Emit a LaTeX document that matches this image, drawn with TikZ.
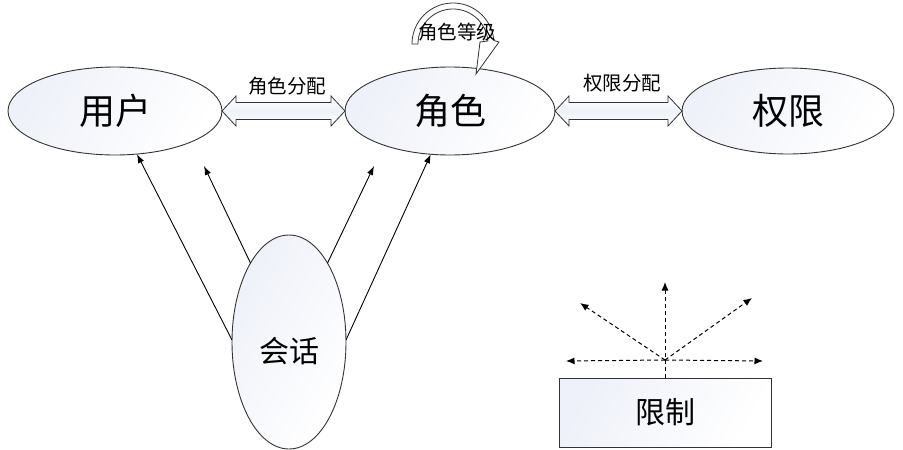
\documentclass[tikz,border=0pt]{standalone}
\usepackage{fontspec}
\setmainfont{Noto Sans CJK SC}
\usetikzlibrary{shapes.geometric,arrows.meta,calc}
\definecolor{shd}{HTML}{EEF1F9}
\definecolor{edge}{HTML}{333333}
\begin{document}
\begin{tikzpicture}[x=1pt,y=-1pt,
  ell/.style={ellipse, draw=edge, line width=0.9pt, inner sep=0pt, outer sep=0pt,
    left color=shd, right color=white, shading angle=60},
  bigtxt/.style={font=\fontsize{36}{38}\selectfont},
  midtxt/.style={font=\fontsize{30}{32}\selectfont},
  smalltxt/.style={font=\fontsize{19.5}{21}\selectfont},
  darrow/.style={draw=edge, line width=0.8pt, top color=white, bottom color=white, middle color=shd, line join=miter},
  sarrow/.style={draw=black, line width=0.9pt, -{Latex[length=9pt,width=6.5pt]}},
  dasharr/.style={draw=black, line width=1pt, dash pattern=on 4pt off 3pt, -{Latex[length=8.5pt,width=7pt]}},
]
\useasboundingbox (0,0) rectangle (903,450);

% ellipses
\node[ell, bigtxt, minimum width=214pt, minimum height=88pt] (yh) at (115,111) {用户};
\node[ell, bigtxt, minimum width=210pt, minimum height=88pt] (js) at (450,111) {角色};
\node[ell, bigtxt, minimum width=212pt, minimum height=86pt] (qx) at (788,111) {权限};
\node[ell, midtxt, minimum width=114pt, minimum height=214pt] (hs) at (289,342) {\raisebox{-9pt}[\height][\depth]{会话}};

% double hollow arrows
\draw[darrow] (yh.east) -- ++(14,-15) -- ++(0,6.5) -- ($(js.west)+(-14,-8.5)$) -- ++(0,-6.5) -- (js.west)
  -- ++(-14,15) -- ++(0,-6.5) -- ($(yh.east)+(14,8.5)$) -- ++(0,6.5) -- cycle;
\draw[darrow] (js.east) -- ++(14,-15) -- ++(0,6.5) -- ($(qx.west)+(-14,-8.5)$) -- ++(0,-6.5) -- (qx.west)
  -- ++(-14,15) -- ++(0,-6.5) -- ($(js.east)+(14,8.5)$) -- ++(0,6.5) -- cycle;
\node[smalltxt] (l1) at (287,86) {角色分配};
\node[smalltxt] (l2) at (622,83) {权限分配};

% curved arrow (role hierarchy)
\draw[draw=edge, line width=0.8pt, fill=white, line join=miter]
  plot[domain=180:5, samples=40] ({453+41*cos(\x)},{44-41*sin(\x)})
  -- (499,42) -- (476,74) -- (480,42)
  -- plot[domain=5:180, samples=40] ({453+35*cos(\x)},{44-35*sin(\x)}) -- cycle;
\node[smalltxt] (l3) at (457,32) {角色等级};

% session arrows
\coordinate (a2) at (204,166);
\coordinate (a3) at (374,166);
\draw[sarrow] (hs.178) -- (yh.-63);
\draw[sarrow] (hs.116) -- (a2);
\draw[sarrow] (hs.64) -- (a3);
\draw[sarrow] (hs.2) -- (js.-114);

% constraint box
\node[draw=edge, line width=0.9pt, left color=shd, right color=white, shading angle=60,
  minimum width=212pt, minimum height=69pt, inner sep=0pt, outer sep=0pt, midtxt] (lim) at (665,412.5) {限制};
\coordinate (o) at (665,360);
\coordinate (up) at (665,282);
\coordinate (ul) at (580,303);
\coordinate (ur) at (752,298);
\coordinate (lf) at (566,361);
\coordinate (rt) at (763,361);
\draw[dasharr] (lim.north) -- (up);
\draw[dasharr] (o) -- (ul);
\draw[dasharr] (o) -- (ur);
\draw[dasharr] (o) -- (lf);
\draw[dasharr] (o) -- (rt);
\end{tikzpicture}
\end{document}
